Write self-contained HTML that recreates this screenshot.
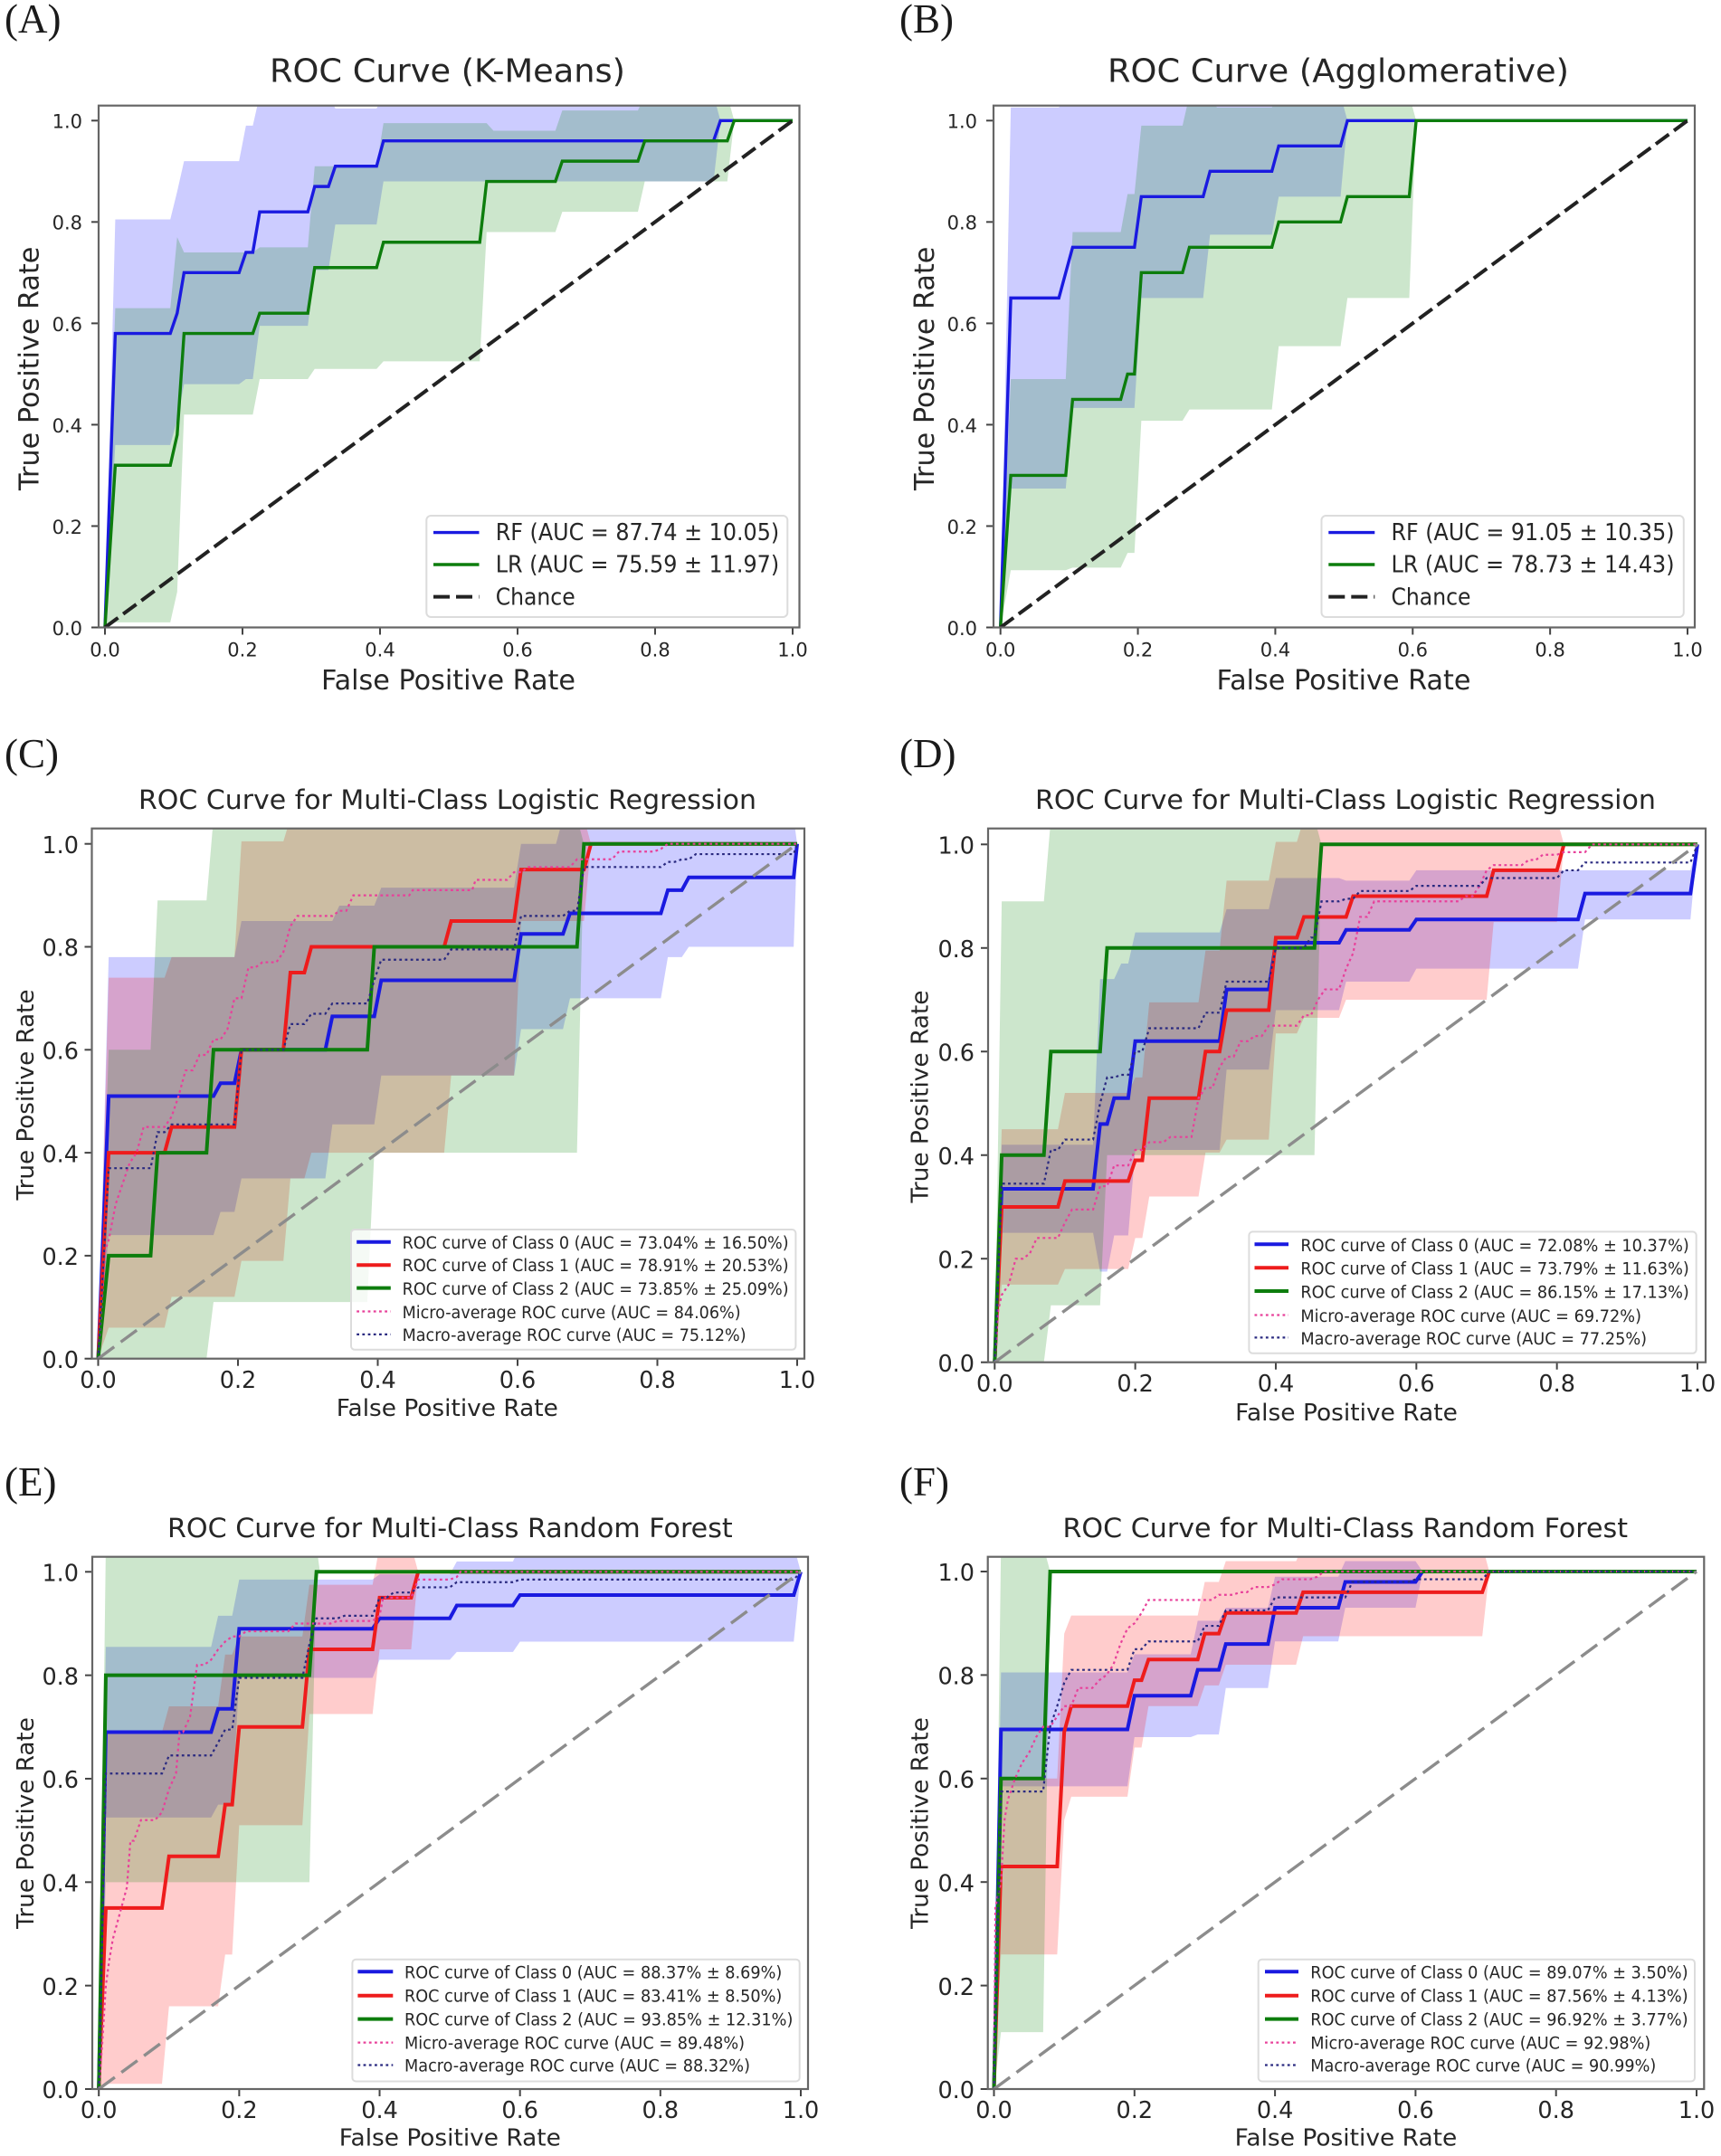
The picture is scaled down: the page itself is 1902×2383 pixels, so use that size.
<!DOCTYPE html>
<html>
<head>
<meta charset="utf-8">
<title>ROC Curves</title>
<style>
html,body{margin:0;padding:0;background:#fff;}
svg{display:block;}
text{font-family:"DejaVu Sans","Liberation Sans",sans-serif;fill:#262626;}
.panel-letter{font-family:"Liberation Serif",serif;font-size:45px;fill:#1a1a1a;}
.t1{font-size:35.5px;}
.t2{font-size:29.5px;}
.l1{font-size:30px;}
.l2{font-size:26px;}
.y{text-anchor:middle;}
.leg1{font-size:26px;}
.leg2{font-size:18.5px;}
.box{fill:#fff;fill-opacity:.8;stroke:#dcdcdc;stroke-width:2;}
.spine{fill:none;stroke:#666;stroke-width:2.2;}
.b{stroke:#1a1ae0;fill:none;}
.r{stroke:#ee1c1c;fill:none;}
.g{stroke:#0d7d0d;fill:none;}
.leg-a{stroke-width:3.4;}
.leg-c{stroke-width:4;}
.mi{stroke:#e8409a;stroke-width:2.2;stroke-dasharray:2.8 3.4;fill:none;}
.ma{stroke:#2a2a80;stroke-width:2.2;stroke-dasharray:2.8 3.4;fill:none;}
.ch{stroke:#222;stroke-width:4;stroke-dasharray:18 7;fill:none;}
</style>
</head>
<body>
<svg id="figure" xmlns="http://www.w3.org/2000/svg" width="1902" height="2383" viewBox="0 0 1902 2383">
<rect width="1902" height="2383" fill="#fff"/>

<g>
<text class="panel-letter" x="5" y="36">(A)</text>
<text class="t1" x="298" y="90.5" textLength="393" lengthAdjust="spacingAndGlyphs">ROC Curve (K-Means)</text>
<g id="marks-a"></g>
<g id="ticks-a"></g>
<rect class="spine" x="109" y="116.7" width="774.5" height="576.8"/>
<text class="l1" x="355" y="762" textLength="281" lengthAdjust="spacingAndGlyphs">False Positive Rate</text>
<text class="l1 y" transform="translate(42.5 407.3) rotate(-90)" textLength="269.4" lengthAdjust="spacingAndGlyphs">True Positive Rate</text>
<g>
<rect class="box" x="471.3" y="570" width="399" height="112" rx="5"/>
<g><line class="b leg-a" x1="479" x2="529.5" y1="588.6" y2="588.6"/><text class="leg1" x="547.7" y="597" textLength="313.5" lengthAdjust="spacingAndGlyphs">RF (AUC = 87.74 ± 10.05)</text></g>
<g><line class="g leg-a" x1="479" x2="529.5" y1="624" y2="624"/><text class="leg1" x="547.7" y="632.5" textLength="313.5" lengthAdjust="spacingAndGlyphs">LR (AUC = 75.59 ± 11.97)</text></g>
<g><line class="ch" x1="479" x2="529.5" y1="659.6" y2="659.6"/><text class="leg1" x="547.7" y="668.5" textLength="88" lengthAdjust="spacingAndGlyphs">Chance</text></g>
</g>
</g>

<g>
<text class="panel-letter" x="994" y="36">(B)</text>
<text class="t1" x="1224" y="90.5" textLength="510" lengthAdjust="spacingAndGlyphs">ROC Curve (Agglomerative)</text>
<g id="marks-b"></g>
<g id="ticks-b"></g>
<rect class="spine" x="1098" y="116.7" width="775" height="576.8"/>
<text class="l1" x="1344.5" y="762" textLength="281" lengthAdjust="spacingAndGlyphs">False Positive Rate</text>
<text class="l1 y" transform="translate(1032 407.3) rotate(-90)" textLength="269.4" lengthAdjust="spacingAndGlyphs">True Positive Rate</text>
<g>
<rect class="box" x="1460.5" y="570" width="400.3" height="112" rx="5"/>
<g><line class="b leg-a" x1="1468.3" x2="1519.3" y1="588.6" y2="588.6"/><text class="leg1" x="1537.5" y="597" textLength="313" lengthAdjust="spacingAndGlyphs">RF (AUC = 91.05 ± 10.35)</text></g>
<g><line class="g leg-a" x1="1468.3" x2="1519.3" y1="624" y2="624"/><text class="leg1" x="1537.5" y="632.5" textLength="313" lengthAdjust="spacingAndGlyphs">LR (AUC = 78.73 ± 14.43)</text></g>
<g><line class="ch" x1="1468.3" x2="1519.3" y1="659.6" y2="659.6"/><text class="leg1" x="1537.5" y="668.5" textLength="88" lengthAdjust="spacingAndGlyphs">Chance</text></g>
</g>
</g>

<g>
<text class="panel-letter" x="5" y="848">(C)</text>
<text class="t2" x="153" y="894" textLength="683" lengthAdjust="spacingAndGlyphs">ROC Curve for Multi-Class Logistic Regression</text>
<g id="marks-c"></g>
<g id="ticks-c"></g>
<rect class="spine" x="101.5" y="915.7" width="787.5" height="586"/>
<text class="l2" x="371.8" y="1565" textLength="245" lengthAdjust="spacingAndGlyphs">False Positive Rate</text>
<text class="l2 y" transform="translate(37 1210) rotate(-90)" textLength="233" lengthAdjust="spacingAndGlyphs">True Positive Rate</text>
<g>
<rect class="box" x="388" y="1359" width="491.4" height="132.8" rx="4"/>
<g><line class="b leg-c" x1="394.2" x2="431.8" y1="1372.8" y2="1372.8"/><text class="leg2" x="444.6" y="1379.8" textLength="427" lengthAdjust="spacingAndGlyphs">ROC curve of Class 0 (AUC = 73.04% ± 16.50%)</text></g>
<g><line class="r leg-c" x1="394.2" x2="431.8" y1="1398.2" y2="1398.2"/><text class="leg2" x="444.6" y="1405.2" textLength="427" lengthAdjust="spacingAndGlyphs">ROC curve of Class 1 (AUC = 78.91% ± 20.53%)</text></g>
<g><line class="g leg-c" x1="394.2" x2="431.8" y1="1423.6" y2="1423.6"/><text class="leg2" x="444.6" y="1431" textLength="427" lengthAdjust="spacingAndGlyphs">ROC curve of Class 2 (AUC = 73.85% ± 25.09%)</text></g>
<g><line class="mi" x1="394.2" x2="431.8" y1="1449.5" y2="1449.5"/><text class="leg2" x="444.6" y="1457" textLength="374" lengthAdjust="spacingAndGlyphs">Micro-average ROC curve (AUC = 84.06%)</text></g>
<g><line class="ma" x1="394.2" x2="431.8" y1="1474.9" y2="1474.9"/><text class="leg2" x="444.6" y="1481.8" textLength="380" lengthAdjust="spacingAndGlyphs">Macro-average ROC curve (AUC = 75.12%)</text></g>
</g>
</g>

<g>
<text class="panel-letter" x="994" y="848">(D)</text>
<text class="t2" x="1144" y="894" textLength="686" lengthAdjust="spacingAndGlyphs">ROC Curve for Multi-Class Logistic Regression</text>
<g id="marks-d"></g>
<g id="ticks-d"></g>
<rect class="spine" x="1092" y="915.7" width="793" height="590"/>
<text class="l2" x="1365.2" y="1570" textLength="245.7" lengthAdjust="spacingAndGlyphs">False Positive Rate</text>
<text class="l2 y" transform="translate(1025.5 1212) rotate(-90)" textLength="235" lengthAdjust="spacingAndGlyphs">True Positive Rate</text>
<g>
<rect class="box" x="1380.4" y="1361.4" width="494.3" height="134.4" rx="4"/>
<g><line class="b leg-c" x1="1386.5" x2="1424" y1="1375.3" y2="1375.3"/><text class="leg2" x="1437.4" y="1382.8" textLength="429.4" lengthAdjust="spacingAndGlyphs">ROC curve of Class 0 (AUC = 72.08% ± 10.37%)</text></g>
<g><line class="r leg-c" x1="1386.5" x2="1424" y1="1401.2" y2="1401.2"/><text class="leg2" x="1437.4" y="1408.7" textLength="429.4" lengthAdjust="spacingAndGlyphs">ROC curve of Class 1 (AUC = 73.79% ± 11.63%)</text></g>
<g><line class="g leg-c" x1="1386.5" x2="1424" y1="1427" y2="1427"/><text class="leg2" x="1437.4" y="1434.6" textLength="429.4" lengthAdjust="spacingAndGlyphs">ROC curve of Class 2 (AUC = 86.15% ± 17.13%)</text></g>
<g><line class="mi" x1="1386.5" x2="1424" y1="1453.5" y2="1453.5"/><text class="leg2" x="1437.4" y="1461" textLength="376.6" lengthAdjust="spacingAndGlyphs">Micro-average ROC curve (AUC = 69.72%)</text></g>
<g><line class="ma" x1="1386.5" x2="1424" y1="1478.4" y2="1478.4"/><text class="leg2" x="1437.4" y="1485.8" textLength="382.7" lengthAdjust="spacingAndGlyphs">Macro-average ROC curve (AUC = 77.25%)</text></g>
</g>
</g>

<g>
<text class="panel-letter" x="5" y="1653">(E)</text>
<text class="t2" x="185" y="1698.9" textLength="624.7" lengthAdjust="spacingAndGlyphs">ROC Curve for Multi-Class Random Forest</text>
<g id="marks-e"></g>
<g id="ticks-e"></g>
<rect class="spine" x="102" y="1720.7" width="791" height="588.3"/>
<text class="l2" x="374.8" y="2371.5" textLength="245" lengthAdjust="spacingAndGlyphs">False Positive Rate</text>
<text class="l2 y" transform="translate(37 2015) rotate(-90)" textLength="233.7" lengthAdjust="spacingAndGlyphs">True Positive Rate</text>
<g>
<rect class="box" x="389.4" y="2165.7" width="494.3" height="134.8" rx="4"/>
<g><line class="b leg-c" x1="395.4" x2="434.3" y1="2179.2" y2="2179.2"/><text class="leg2" x="447" y="2186.7" textLength="417.3" lengthAdjust="spacingAndGlyphs">ROC curve of Class 0 (AUC = 88.37% ± 8.69%)</text></g>
<g><line class="r leg-c" x1="395.4" x2="434.3" y1="2205.7" y2="2205.7"/><text class="leg2" x="447" y="2212.6" textLength="417.3" lengthAdjust="spacingAndGlyphs">ROC curve of Class 1 (AUC = 83.41% ± 8.50%)</text></g>
<g><line class="g leg-c" x1="395.4" x2="434.3" y1="2231.6" y2="2231.6"/><text class="leg2" x="447" y="2238.6" textLength="429.4" lengthAdjust="spacingAndGlyphs">ROC curve of Class 2 (AUC = 93.85% ± 12.31%)</text></g>
<g><line class="mi" x1="395.4" x2="434.3" y1="2257.6" y2="2257.6"/><text class="leg2" x="447" y="2264.6" textLength="376" lengthAdjust="spacingAndGlyphs">Micro-average ROC curve (AUC = 89.48%)</text></g>
<g><line class="ma" x1="395.4" x2="434.3" y1="2282.5" y2="2282.5"/><text class="leg2" x="447" y="2289.5" textLength="382" lengthAdjust="spacingAndGlyphs">Macro-average ROC curve (AUC = 88.32%)</text></g>
</g>
</g>

<g>
<text class="panel-letter" x="994" y="1653">(F)</text>
<text class="t2" x="1174.5" y="1698.9" textLength="624.5" lengthAdjust="spacingAndGlyphs">ROC Curve for Multi-Class Random Forest</text>
<g id="marks-f"></g>
<g id="ticks-f"></g>
<rect class="spine" x="1091.7" y="1720.7" width="791.6" height="588.3"/>
<text class="l2" x="1364.6" y="2371.5" textLength="245.7" lengthAdjust="spacingAndGlyphs">False Positive Rate</text>
<text class="l2 y" transform="translate(1025.5 2015) rotate(-90)" textLength="233.7" lengthAdjust="spacingAndGlyphs">True Positive Rate</text>
<g>
<rect class="box" x="1390.7" y="2165.7" width="482.3" height="134.8" rx="4"/>
<g><line class="b leg-c" x1="1398" x2="1435" y1="2179.2" y2="2179.2"/><text class="leg2" x="1448.3" y="2186.7" textLength="417.3" lengthAdjust="spacingAndGlyphs">ROC curve of Class 0 (AUC = 89.07% ± 3.50%)</text></g>
<g><line class="r leg-c" x1="1398" x2="1435" y1="2205.7" y2="2205.7"/><text class="leg2" x="1448.3" y="2212.6" textLength="417.3" lengthAdjust="spacingAndGlyphs">ROC curve of Class 1 (AUC = 87.56% ± 4.13%)</text></g>
<g><line class="g leg-c" x1="1398" x2="1435" y1="2231.6" y2="2231.6"/><text class="leg2" x="1448.3" y="2238.6" textLength="417.3" lengthAdjust="spacingAndGlyphs">ROC curve of Class 2 (AUC = 96.92% ± 3.77%)</text></g>
<g><line class="mi" x1="1398" x2="1435" y1="2257.6" y2="2257.6"/><text class="leg2" x="1448.3" y="2264.6" textLength="376" lengthAdjust="spacingAndGlyphs">Micro-average ROC curve (AUC = 92.98%)</text></g>
<g><line class="ma" x1="1398" x2="1435" y1="2282.5" y2="2282.5"/><text class="leg2" x="1448.3" y="2289.5" textLength="382" lengthAdjust="spacingAndGlyphs">Macro-average ROC curve (AUC = 90.99%)</text></g>
</g>
</g>
</svg>

<script>
// Axis tick values and labels
const tickValues = [0, 0.2, 0.4, 0.6, 0.8, 1];
const tickLabels = ['0.0', '0.2', '0.4', '0.6', '0.8', '1.0'];
const chanceLine = [[0, 0], [1, 1]];

// Each entry is [fpr, tpr]: the curve reaches tpr at fpr and holds it until the next step.
// Panel A
const aRfMean = [[0,0],[.01,.58],[.10,.62],[.11,.70],[.20,.74],[.22,.82],[.30,.87],[.33,.91],[.40,.96],[.89,1],[1,1]];
const aRfHi = [[0,0],[.01,.805],[.10,.86],[.11,.92],[.20,.99],[.22,1.05],[.33,1.024],[.40,1.05],[.89,1],[1,1]];
const aRfLo = [[0,0],[.01,.36],[.10,.41],[.11,.48],[.20,.49],[.22,.595],[.30,.705],[.33,.795],[.40,.88],[.89,1],[1,1]];
const aLrMean = [[0,0],[.01,.32],[.10,.38],[.11,.58],[.22,.62],[.30,.71],[.40,.76],[.55,.88],[.66,.92],[.78,.96],[.91,1],[1,1]];
const aLrHi = [[0,0],[.01,.63],[.10,.77],[.11,.74],[.22,.75],[.30,.91],[.40,.995],[.56,.98],[.66,1.02],[.78,1.05],[.91,1],[1,1]];
const aLrLo = [[0,0],[.01,.01],[.10,.07],[.11,.42],[.22,.49],[.30,.51],[.40,.525],[.55,.78],[.66,.82],[.78,.88],[.91,1],[1,1]];

// Panel B
const bRfMean = [[0,0],[.01,.65],[.09,.70],[.10,.75],[.20,.85],[.30,.90],[.40,.95],[.50,1],[1,1]];
const bRfHi = [[0,0],[.01,1.026],[.09,1.05],[.50,1],[1,1]];
const bRfLo = [[0,0],[.01,.274],[.10,.433],[.20,.65],[.30,.775],[.40,.85],[.50,1],[1,1]];
const bLrMean = [[0,0],[.01,.30],[.10,.45],[.18,.50],[.20,.70],[.27,.75],[.40,.80],[.50,.85],[.60,1],[1,1]];
const bLrHi = [[0,0],[.01,.49],[.10,.78],[.18,.855],[.20,.99],[.27,1.05],[.31,1.026],[.40,1.05],[.60,1],[1,1]];
const bLrLo = [[0,0],[.01,.113],[.10,.118],[.18,.147],[.20,.408],[.27,.43],[.40,.555],[.50,.65],[.60,1],[1,1]];

// Panel C
const cClass0Mean = [[0,0],[.01,.51],[.17,.535],[.20,.60],[.33,.665],[.40,.735],[.60,.825],[.67,.865],[.81,.91],[.84,.935],[1,1]];
const cClass0Hi = [[0,0],[.01,.78],[.20,.85],[.34,.88],[.40,.915],[.60,1],[.66,1.05],[1,1]];
const cClass0Lo = [[0,0],[.01,.24],[.17,.285],[.20,.35],[.33,.455],[.40,.55],[.60,.64],[.67,.70],[.81,.78],[.84,.80],[1,1]];
const cClass1Mean = [[0,0],[.01,.40],[.10,.45],[.20,.60],[.27,.75],[.30,.80],[.50,.85],[.60,.95],[.70,1],[1,1]];
const cClass1Hi = [[0,0],[.01,.74],[.10,.78],[.20,1.005],[.27,1.05],[.70,1],[1,1]];
const cClass1Lo = [[0,0],[.01,.06],[.10,.12],[.20,.19],[.27,.35],[.30,.40],[.50,.55],[.60,.85],[.70,1],[1,1]];
const cClass2Mean = [[0,0],[.01,.20],[.08,.40],[.16,.60],[.39,.80],[.69,1],[1,1]];
const cClass2Hi = [[0,0],[.01,.60],[.08,.89],[.16,1.05],[.69,1],[1,1]];
const cClass2Lo = [[0,0],[.16,.11],[.39,.40],[.69,1],[1,1]];
const cMicro = [[0,0],[.005,.21],[.01,.23],[.02,.30],[.03,.34],[.04,.38],[.05,.40],[.06,.45],[.10,.47],[.11,.51],[.12,.56],[.14,.59],[.16,.62],[.18,.64],[.19,.70],[.21,.76],[.23,.77],[.26,.79],[.27,.84],[.28,.86],[.34,.87],[.36,.90],[.44,.90],[.445,.91],[.53,.91],[.535,.93],[.58,.93],[.59,.945],[.61,.955],[.68,.97],[.74,.985],[.80,.99],[.81,1],[1,1]];
const cMacro = [[0,0],[.01,.37],[.08,.44],[.10,.455],[.20,.60],[.27,.65],[.30,.67],[.33,.69],[.39,.735],[.40,.775],[.50,.795],[.60,.86],[.67,.87],[.69,.955],[.81,.965],[.83,.97],[.85,.98],[1,1]];

// Panel D
const dClass0Mean = [[0,0],[.01,.335],[.15,.46],[.17,.51],[.20,.62],[.33,.72],[.40,.81],[.50,.835],[.60,.855],[.84,.905],[1,1]];
const dClass0Hi = [[0,0],[.01,.42],[.15,.74],[.18,.77],[.20,.83],[.33,.875],[.40,.935],[.50,.93],[.60,.95],[1,1]];
const dClass0Lo = [[0,0],[.01,.25],[.15,.175],[.17,.245],[.20,.41],[.33,.565],[.40,.68],[.50,.735],[.60,.76],[.84,.855],[1,1]];
const dClass1Mean = [[0,0],[.01,.30],[.10,.35],[.20,.39],[.22,.51],[.30,.60],[.33,.68],[.40,.82],[.44,.86],[.51,.90],[.71,.95],[.81,1],[1,1]];
const dClass1Hi = [[0,0],[.01,.45],[.10,.52],[.20,.55],[.22,.695],[.30,.795],[.33,.93],[.40,1.005],[.44,1.05],[.81,1],[1,1]];
const dClass1Lo = [[0,0],[.01,.15],[.10,.18],[.20,.24],[.22,.32],[.30,.405],[.33,.43],[.40,.635],[.44,.665],[.50,.70],[.71,.85],[.81,1],[1,1]];
const dClass2Mean = [[0,0],[.01,.40],[.08,.60],[.16,.80],[.465,1],[1,1]];
const dClass2Hi = [[0,0],[.01,.89],[.08,1.05],[.465,1],[1,1]];
const dClass2Lo = [[0,0],[.08,.11],[.16,.40],[.465,1],[1,1]];
const dMicro = [[0,0],[.005,.10],[.01,.13],[.02,.15],[.03,.20],[.05,.21],[.06,.24],[.10,.27],[.11,.295],[.15,.34],[.17,.38],[.20,.41],[.22,.425],[.25,.435],[.29,.51],[.30,.53],[.32,.57],[.33,.59],[.35,.62],[.37,.63],[.39,.65],[.44,.67],[.46,.70],[.47,.72],[.50,.76],[.51,.79],[.52,.86],[.54,.89],[.67,.90],[.69,.92],[.70,.95],[.71,.96],[.76,.97],[.78,.98],[.81,.985],[.85,1],[1,1]];
const dMacro = [[0,0],[.01,.345],[.08,.41],[.10,.43],[.15,.50],[.16,.55],[.18,.555],[.20,.60],[.22,.645],[.30,.675],[.33,.735],[.40,.80],[.45,.82],[.465,.89],[.50,.895],[.52,.91],[.60,.92],[.70,.935],[.81,.95],[.84,.965],[1,1]];

// Panel E
const eClass0Mean = [[0,0],[.01,.69],[.17,.735],[.20,.89],[.40,.91],[.51,.935],[.60,.955],[1,1]];
const eClass0Hi = [[0,0],[.01,.855],[.17,.915],[.20,.985],[.40,.995],[.51,1.02],[.60,1.05],[1,1]];
const eClass0Lo = [[0,0],[.01,.525],[.17,.55],[.20,.795],[.40,.83],[.51,.845],[.60,.865],[1,1]];
const eClass1Mean = [[0,0],[.01,.35],[.10,.45],[.18,.55],[.20,.70],[.30,.85],[.40,.95],[.455,1],[1,1]];
const eClass1Hi = [[0,0],[.01,.69],[.10,.74],[.18,.84],[.20,.875],[.30,.975],[.40,1.05],[.455,1],[1,1]];
const eClass1Lo = [[0,0],[.01,.01],[.10,.16],[.18,.26],[.20,.51],[.30,.725],[.40,.85],[.455,1],[1,1]];
const eClass2Mean = [[0,0],[.01,.80],[.31,1],[1,1]];
const eClass2Hi = [[0,0],[.01,1.05],[.31,1.05],[.315,1],[1,1]];
const eClass2Lo = [[0,0],[.01,.40],[.31,1],[1,1]];
const eMicro = [[0,0],[.005,.09],[.01,.20],[.015,.25],[.02,.29],[.03,.34],[.04,.39],[.045,.48],[.06,.52],[.09,.535],[.10,.58],[.11,.61],[.115,.69],[.13,.72],[.14,.82],[.16,.83],[.17,.85],[.18,.865],[.19,.875],[.21,.885],[.28,.90],[.34,.905],[.40,.915],[.405,.95],[.455,.985],[.51,.99],[.515,1],[1,1]];
const eMacro = [[0,0],[.01,.61],[.10,.645],[.17,.67],[.18,.695],[.20,.795],[.30,.86],[.31,.91],[.35,.915],[.40,.95],[.42,.96],[.455,.97],[.51,.98],[.60,.985],[1,1]];

// Panel F
const fClass0Mean = [[0,0],[.01,.695],[.20,.76],[.29,.81],[.33,.86],[.40,.93],[.50,.98],[.61,1],[1,1]];
const fClass0Hi = [[0,0],[.01,.805],[.20,.84],[.29,.905],[.33,.93],[.40,.99],[.50,1.02],[.61,1],[1,1]];
const fClass0Lo = [[0,0],[.01,.585],[.20,.68],[.29,.685],[.33,.775],[.40,.865],[.50,.93],[.61,1],[1,1]];
const fClass1Mean = [[0,0],[.01,.43],[.10,.69],[.11,.74],[.20,.79],[.22,.83],[.30,.88],[.33,.92],[.44,.96],[.705,1],[1,1]];
const fClass1Hi = [[0,0],[.01,.60],[.10,.88],[.11,.915],[.30,.98],[.33,1.02],[.44,1.05],[.705,1],[1,1]];
const fClass1Lo = [[0,0],[.01,.26],[.10,.52],[.11,.565],[.20,.66],[.22,.74],[.30,.78],[.33,.82],[.44,.875],[.705,1],[1,1]];
const fClass2Mean = [[0,0],[.01,.60],[.08,1],[1,1]];
const fClass2Hi = [[0,0],[.01,1.05],[.08,1],[1,1]];
const fClass2Lo = [[0,0],[.01,.11],[.08,1],[1,1]];
const fMicro = [[0,0],[.002,.35],[.005,.37],[.01,.40],[.015,.52],[.02,.56],[.03,.60],[.04,.63],[.05,.65],[.06,.68],[.07,.70],[.09,.72],[.10,.74],[.12,.775],[.15,.79],[.16,.80],[.17,.82],[.18,.86],[.19,.89],[.20,.90],[.21,.92],[.22,.945],[.32,.955],[.35,.96],[.37,.97],[.40,.975],[.41,.985],[.46,.99],[.47,1],[1,1]];
const fMacro = [[0,0],[.01,.575],[.08,.70],[.09,.74],[.10,.785],[.11,.81],[.20,.85],[.22,.865],[.30,.895],[.33,.925],[.40,.95],[.51,.98],[.60,.985],[.705,1],[1,1]];

const SVGNS = 'http://www.w3.org/2000/svg';
const BLUE = '#1a1ae0', RED = '#ee1c1c', GREEN = '#0d7d0d';
const BLUE_FILL = '#0000ff', RED_FILL = '#ff0000', GREEN_FILL = '#008000';

const panels = [
  {id:'a', L:109, R:883.5, T:116.7, B:693.5, x0:116, x1:876, y1:133.3, font:21, lw:3.4, xBase:725.5, yRight:91, chance:'binary', riserLag:0.005,
   classes:[[aRfMean,aRfHi,aRfLo,BLUE,BLUE_FILL],[aLrMean,aLrHi,aLrLo,GREEN,GREEN_FILL]]},
  {id:'b', L:1098, R:1873, T:116.7, B:693.5, x0:1105.7, x1:1865, y1:133.3, font:21, lw:3.4, xBase:725.5, yRight:1080, chance:'binary', riserLag:0.005,
   classes:[[bRfMean,bRfHi,bRfLo,BLUE,BLUE_FILL],[bLrMean,bLrHi,bLrLo,GREEN,GREEN_FILL]]},
  {id:'c', L:101.5, R:889, T:915.7, B:1501.7, x0:108.5, x1:881, y1:932.7, font:25.5, lw:4, xBase:1534, yRight:87, chance:'multi', riserLag:0.005, micro:cMicro, macro:cMacro,
   classes:[[cClass0Mean,cClass0Hi,cClass0Lo,BLUE,BLUE_FILL],[cClass1Mean,cClass1Hi,cClass1Lo,RED,RED_FILL],[cClass2Mean,cClass2Hi,cClass2Lo,GREEN,GREEN_FILL]]},
  {id:'d', L:1092, R:1885, T:915.7, B:1505.7, x0:1099.3, x1:1876, y1:933.3, font:25.5, lw:4, xBase:1538, yRight:1077, chance:'multi', riserLag:0, micro:dMicro, macro:dMacro,
   classes:[[dClass0Mean,dClass0Hi,dClass0Lo,BLUE,BLUE_FILL],[dClass1Mean,dClass1Hi,dClass1Lo,RED,RED_FILL],[dClass2Mean,dClass2Hi,dClass2Lo,GREEN,GREEN_FILL]]},
  {id:'e', L:102, R:893, T:1720.7, B:2309, x0:109.2, x1:885, y1:1737.3, font:25.5, lw:4, xBase:2341, yRight:87, chance:'multi', riserLag:0, micro:eMicro, macro:eMacro,
   classes:[[eClass0Mean,eClass0Hi,eClass0Lo,BLUE,BLUE_FILL],[eClass1Mean,eClass1Hi,eClass1Lo,RED,RED_FILL],[eClass2Mean,eClass2Hi,eClass2Lo,GREEN,GREEN_FILL]]},
  {id:'f', L:1091.7, R:1883.3, T:1720.7, B:2309, x0:1098.5, x1:1875, y1:1737, font:25.5, lw:4, xBase:2341, yRight:1077, chance:'multi', riserLag:0, micro:fMicro, macro:fMacro,
   classes:[[fClass0Mean,fClass0Hi,fClass0Lo,BLUE,BLUE_FILL],[fClass1Mean,fClass1Hi,fClass1Lo,RED,RED_FILL],[fClass2Mean,fClass2Hi,fClass2Lo,GREEN,GREEN_FILL]]}
];

function xScale(p, v) { return p.x0 + (p.x1 - p.x0) * v; }
function yScale(p, v) { return p.B - (p.B - p.y1) * v; }

// A step holds its level until one grid cell (0.01 FPR) before the next step.
// riserLag nudges interior risers where a panel's curves sit slightly right of the tick grid.
function expandSteps(steps, lag) {
  const out = [];
  const nudge = function (x) { return (x > 0 && x < 1) ? x + lag : x; };
  for (let i = 0; i < steps.length; i++) {
    out.push([nudge(steps[i][0]), steps[i][1]]);
    if (i + 1 < steps.length && steps[i + 1][0] - 0.01 > steps[i][0]) {
      out.push([nudge(steps[i + 1][0] - 0.01), steps[i][1]]);
    }
  }
  return out;
}

function pointString(p, pts) {
  return pts.map(function (d) { return xScale(p, d[0]).toFixed(2) + ',' + yScale(p, d[1]).toFixed(2); }).join(' ');
}

function drawBand(p, group, hi, lo, fill) {
  const el = document.createElementNS(SVGNS, 'polygon');
  
  
  const pts = expandSteps(hi, p.riserLag).concat(expandSteps(lo, p.riserLag).reverse());
  el.setAttribute('points', pointString(p, pts));
  el.setAttribute('fill', fill);
  el.setAttribute('fill-opacity', '0.2');
  group.appendChild(el);
}

function drawCurve(p, group, steps, color, width) {
  const el = document.createElementNS(SVGNS, 'polyline');
  
  
  el.setAttribute('points', pointString(p, expandSteps(steps, p.riserLag)));
  el.setAttribute('fill', 'none');
  el.setAttribute('stroke', color);
  el.setAttribute('stroke-width', width);
  group.appendChild(el);
}

function drawAverage(p, group, steps, cls) {
  const el = document.createElementNS(SVGNS, 'polyline');
  
  
  el.setAttribute('points', pointString(p, expandSteps(steps, p.riserLag)));
  el.setAttribute('class', cls);
  group.appendChild(el);
}

function drawChance(p, group) {
  const el = document.createElementNS(SVGNS, 'polyline');
  
  
  el.setAttribute('points', pointString(p, chanceLine));
  el.setAttribute('fill', 'none');
  if (p.chance === 'binary') {
    el.setAttribute('stroke', '#222');
    el.setAttribute('stroke-width', '4');
    el.setAttribute('stroke-dasharray', '18 7');
  } else {
    el.setAttribute('stroke', '#8c8c8c');
    el.setAttribute('stroke-width', '3.4');
    el.setAttribute('stroke-dasharray', '22 9');
  }
  group.appendChild(el);
}

function drawTicks(p, group) {
  tickValues.forEach(function (v, i) {
    const xt = document.createElementNS(SVGNS, 'line');
    
    
    xt.setAttribute('x1', xScale(p, v));
    xt.setAttribute('x2', xScale(p, v));
    xt.setAttribute('y1', p.B);
    xt.setAttribute('y2', p.B + 8);
    xt.setAttribute('stroke', '#444');
    xt.setAttribute('stroke-width', '2');
    group.appendChild(xt);

    const xl = document.createElementNS(SVGNS, 'text');
    
    
    xl.setAttribute('x', xScale(p, v));
    xl.setAttribute('y', p.xBase);
    xl.setAttribute('text-anchor', 'middle');
    xl.setAttribute('font-size', p.font);
    xl.textContent = tickLabels[i];
    group.appendChild(xl);

    const yt = document.createElementNS(SVGNS, 'line');
    
    
    yt.setAttribute('x1', p.L - 8);
    yt.setAttribute('x2', p.L);
    yt.setAttribute('y1', yScale(p, v));
    yt.setAttribute('y2', yScale(p, v));
    yt.setAttribute('stroke', '#444');
    yt.setAttribute('stroke-width', '2');
    group.appendChild(yt);

    const yl = document.createElementNS(SVGNS, 'text');
    
    
    yl.setAttribute('x', p.yRight);
    yl.setAttribute('y', yScale(p, v) + p.font * 0.4);
    yl.setAttribute('text-anchor', 'end');
    yl.setAttribute('font-size', p.font);
    yl.textContent = tickLabels[i];
    group.appendChild(yl);
  });
}

function drawPanel(p) {
  const root = document.getElementById('figure');
  const clip = document.createElementNS(SVGNS, 'clipPath');
  clip.setAttribute('id', 'clip-' + p.id);
  const cr = document.createElementNS(SVGNS, 'rect');
  cr.setAttribute('x', p.L);
  cr.setAttribute('y', p.T);
  cr.setAttribute('width', p.R - p.L);
  cr.setAttribute('height', p.B - p.T);
  clip.appendChild(cr);
  root.appendChild(clip);

  const marks = document.getElementById('marks-' + p.id);
  marks.setAttribute('clip-path', 'url(#clip-' + p.id + ')');
  p.classes.forEach(function (c) { drawBand(p, marks, c[1], c[2], c[4]); });
  p.classes.forEach(function (c) { drawCurve(p, marks, c[0], c[3], p.lw); });
  if (p.micro) { drawAverage(p, marks, p.micro, 'mi'); }
  if (p.macro) { drawAverage(p, marks, p.macro, 'ma'); }
  drawChance(p, marks);
  drawTicks(p, document.getElementById('ticks-' + p.id));
}

panels.forEach(drawPanel);
</script>
</body>
</html>
